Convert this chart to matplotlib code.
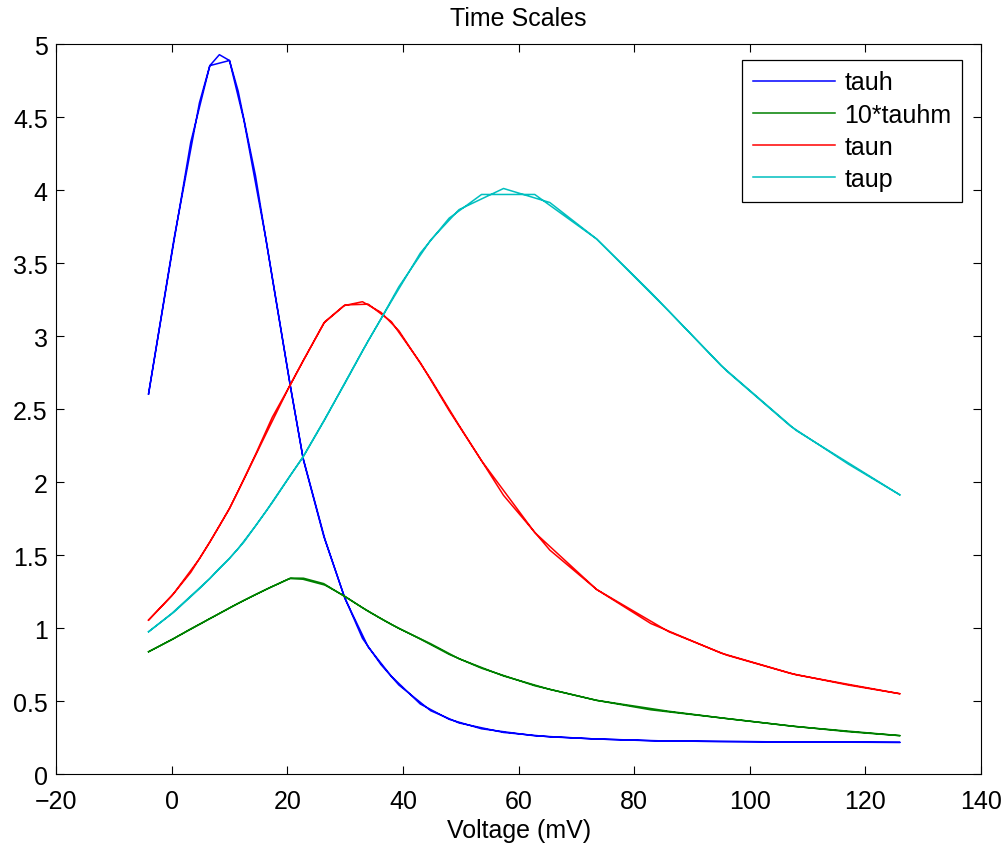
import numpy as np
import matplotlib
matplotlib.use("Agg")
import matplotlib.pyplot as plt

plt.rcParams['font.family'] = ['Liberation Sans', 'DejaVu Sans']

# membrane voltage along the trajectory: upstroke then back down
V_up = [-4, 0.4, 4.8, 6.6, 10.0, 12.5, 16.3, 20.4, 22.7, 26.5, 29.8, 33.0,
        36.2, 39.3, 44.8, 49.7, 57.4, 65.4, 73.5, 82.9, 95.0, 108, 126]
V_down = [117, 107, 96, 86, 73.5, 62.8, 53.6, 48, 43, 38, 34, 30, 26.3, 22.8,
          20.6, 17.4, 14.5, 11.5, 10.0, 8.25, 6.6, 3.3, 0, -4]
V = V_up + V_down

tauh = [2.605, 3.667, 4.60, 4.855, 4.89, 4.48, 3.667, 2.69, 2.17, 1.61, 1.222, 0.93,
        0.75, 0.61, 0.434, 0.35, 0.285, 0.255, 0.24, 0.228, 0.223, 0.220, 0.217,
        0.218, 0.220, 0.223, 0.226, 0.24, 0.262, 0.31, 0.375, 0.48, 0.67, 0.87, 1.20,
        1.63, 2.15, 2.64, 3.40, 4.10, 4.68, 4.89, 4.93, 4.855, 4.33, 3.56, 2.605]
tauhm10 = [0.838, 0.93, 1.025, 1.065, 1.138, 1.19, 1.265, 1.34, 1.335, 1.295, 1.222, 1.14,
           1.065, 0.998, 0.893, 0.79, 0.672, 0.58, 0.505, 0.44, 0.385, 0.325, 0.263,
           0.29, 0.33, 0.38, 0.43, 0.505, 0.605, 0.725, 0.82, 0.925, 1.025, 1.115, 1.215,
           1.305, 1.342, 1.343, 1.285, 1.23, 1.17, 1.138, 1.10, 1.065, 0.995, 0.92, 0.838]
taun = [1.055, 1.24, 1.475, 1.59, 1.82, 2.02, 2.33, 2.66, 2.83, 3.10, 3.21, 3.237,
        3.164, 3.038, 2.707, 2.39, 1.91, 1.535, 1.265, 1.031, 0.829, 0.68, 0.55,
        0.61, 0.69, 0.815, 0.975, 1.265, 1.655, 2.147, 2.49, 2.82, 3.10, 3.22, 3.215,
        3.09, 2.835, 2.673, 2.445, 2.19, 1.94, 1.82, 1.70, 1.59, 1.382, 1.22, 1.055]
taup = [0.975, 1.11, 1.27, 1.34, 1.478, 1.59, 1.80, 2.04, 2.17, 2.43, 2.67, 2.90,
        3.12, 3.34, 3.66, 3.868, 4.013, 3.917, 3.667, 3.30, 2.80, 2.355, 1.912,
        2.125, 2.385, 2.762, 3.172, 3.667, 3.972, 3.972, 3.81, 3.57, 3.24, 2.97, 2.68,
        2.42, 2.18, 2.05, 1.86, 1.70, 1.545, 1.478, 1.41, 1.34, 1.22, 1.10, 0.975]

labels = ['tauh', '10*tauhm', 'taun', 'taup']
colors = [(0, 0, 1), (0, 0.5, 0), (1, 0, 0), (0, 0.75, 0.75)]

xticks = [-20, 0, 20, 40, 60, 80, 100, 120, 140]
yticks = [0, 0.5, 1, 1.5, 2, 2.5, 3, 3.5, 4, 4.5, 5]
yticklabels = ['0', '0.5', '1', '1.5', '2', '2.5', '3', '3.5', '4', '4.5', '5']

FS = 18

fig = plt.figure(figsize=(10.08, 8.53), dpi=100)
ax = fig.add_axes([0.0556, 0.0914, 0.9177, 0.8553])

for tau, lab, col in zip([tauh, tauhm10, taun, taup], labels, colors):
    ax.plot(V, tau, color=col, lw=1.1, label=lab)

ax.set_xlim(-20, 140)
ax.set_ylim(0, 5)
ax.set_xticks(xticks)
ax.set_yticks(yticks)
ax.set_yticklabels(yticklabels)
ax.tick_params(direction='in', length=6, width=0.8, labelsize=FS,
               top=True, right=True)
ax.tick_params(axis='x', pad=10.5)
ax.tick_params(axis='y', pad=6)
for sp in ax.spines.values():
    sp.set_linewidth(0.8)

ax.set_title('Time Scales', fontsize=FS, pad=14)
ax.set_xlabel('Voltage (mV)', fontsize=FS, labelpad=4)

leg = ax.legend(loc='upper right', bbox_to_anchor=(0.9795, 0.9788), fontsize=FS,
                handlelength=3.3, handletextpad=0.36, labelspacing=0.33,
                borderpad=0.42, borderaxespad=0, fancybox=False, framealpha=1)
leg.get_frame().set_edgecolor('black')
leg.get_frame().set_linewidth(0.9)

fig.savefig('out.png', dpi=100)
